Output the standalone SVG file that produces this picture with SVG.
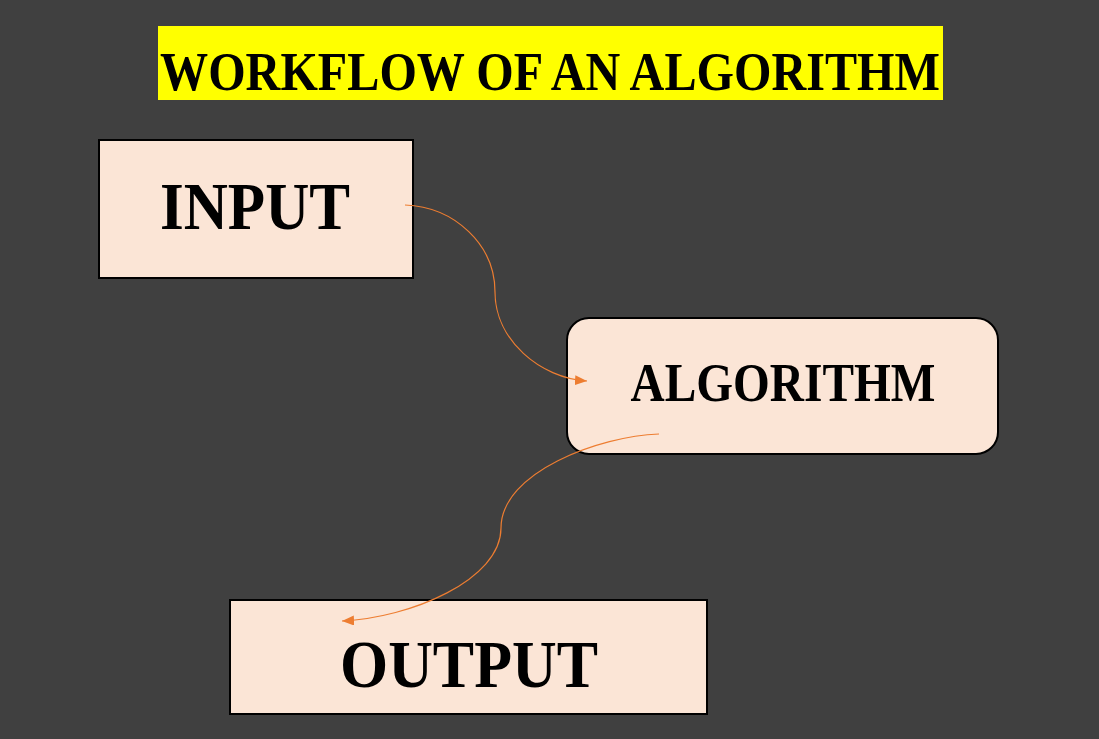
<svg xmlns="http://www.w3.org/2000/svg" width="1099" height="739" viewBox="0 0 1099 739">
<style>
.box{fill:#FBE5D6;stroke:#000;stroke-width:2}
.lbl{font-family:"Liberation Serif","DejaVu Serif",serif;font-weight:bold;fill:#000;text-anchor:middle}
.conn{fill:none;stroke:#ED7D31;stroke-width:1.2}
</style>
<defs>
<marker id="arr" viewBox="0 0 12 10" refX="12" refY="5" markerWidth="12" markerHeight="10" markerUnits="userSpaceOnUse" orient="auto">
<path d="M0,0 L12,5 L0,10 z" fill="#ED7D31"/>
</marker>
</defs>
<rect x="0" y="0" width="1099" height="739" fill="#404040"/>
<g id="title">
<rect x="158" y="26" width="785" height="74" fill="#FFFF00"/>
<text class="lbl" x="550" y="90" font-size="54" textLength="780" lengthAdjust="spacingAndGlyphs">WORKFLOW OF AN ALGORITHM</text>
</g>
<g id="input">
<rect class="box" x="99" y="140" width="314" height="138"/>
<text class="lbl" x="255" y="229" font-size="68" textLength="190" lengthAdjust="spacingAndGlyphs">INPUT</text>
</g>
<g id="algorithm">
<rect class="box" x="567" y="318" width="431" height="136" rx="22" ry="22"/>
<text class="lbl" x="783" y="401" font-size="54" textLength="305" lengthAdjust="spacingAndGlyphs">ALGORITHM</text>
</g>
<g id="output">
<rect class="box" x="230" y="600" width="477" height="114"/>
<text class="lbl" x="469" y="687" font-size="68" textLength="258" lengthAdjust="spacingAndGlyphs">OUTPUT</text>
</g>
<g id="connectors">
<path class="conn" marker-end="url(#arr)" d="M405,205 C455,207 495,245 495,292 C495,340 540,378 587,381"/>
<path class="conn" marker-end="url(#arr)" d="M659,434 C600,436 501,472 501,528 C501,580 410,618 342,621"/>
</g>
</svg>
